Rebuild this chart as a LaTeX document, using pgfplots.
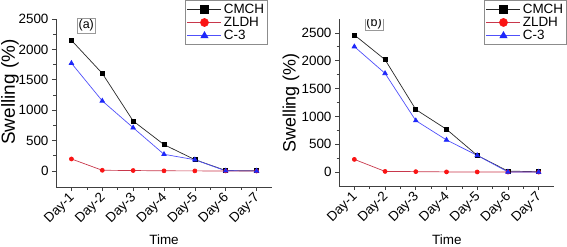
\documentclass[border=0pt]{standalone}
\usepackage{fontspec}
\setmainfont{Liberation Sans}
\usepackage{pgfplots}
\pgfplotsset{compat=1.18}
\definecolor{cmchline}{RGB}{40,40,40}
\definecolor{zldhline}{RGB}{200,55,75}
\definecolor{zldhmark}{RGB}{250,20,20}
\definecolor{c3line}{RGB}{80,80,250}
\definecolor{c3mark}{RGB}{30,40,250}
\pgfplotsset{
  legend image code/.code={\draw[mark repeat=2,mark phase=2,#1] plot coordinates {(0bp,0bp) (17bp,0bp) (34bp,0bp)};},
}
\pgfplotsset{
  myax/.style={
    scale only axis,
    axis x line=bottom, axis y line=left,
    axis line style={-, black!75, line width=0.8pt},
    xmin=0.5, xmax=7.5,
    xtick={1,2,3,4,5,6,7},
    xticklabels={Day-1,Day-2,Day-3,Day-4,Day-5,Day-6,Day-7},
    minor x tick num=1,
    ytick={0,500,1000,1500,2000,2500},
    minor y tick num=1,
    tick align=outside,
    major tick length=4bp, minor tick length=2.5bp,
    every tick/.style={black!75, line width=0.7pt},
    /pgf/number format/assume math mode=true,
    /pgf/number format/1000 sep={},
    x tick label style={rotate=45, anchor=east, font=\fontsize{13.5}{15}\selectfont, xshift=1bp, yshift=-4bp},
    y tick label style={font=\fontsize{13.5}{15}\selectfont},
    xlabel={Time},
    xlabel style={font=\fontsize{13.5}{15}\selectfont, anchor=center},
    legend cell align=left,
    legend style={draw=black!45, line width=0.5pt, font=\fontsize{13.5}{15}\selectfont, anchor=north east, inner sep=1.5bp, row sep=-1.5bp},
    legend image post style={mark size=4bp},
    every axis plot/.append style={line width=0.7pt},
  },
  cmch/.style={color=cmchline, mark=square*, mark size=2bp, mark options={fill=black, draw=black}},
  zldh/.style={color=zldhline, mark=*, mark size=2bp, mark options={fill=zldhmark, draw=zldhmark}},
  c3/.style={color=c3line, mark=triangle*, mark size=2.6bp, mark options={fill=c3mark, draw=c3mark}},
}
\begin{document}
\begin{tikzpicture}
\useasboundingbox (0,0) rectangle (567bp,247bp);
% (a)
\begin{axis}[myax,
  at={(56bp,60bp)}, anchor=south west,
  width=216bp, height=168bp,
  ymin=-263, ymax=2500,
  ylabel={Swelling (\%)},
  ylabel style={font=\fontsize{19}{21}\selectfont, at={(axis description cs:-0.213,0.565)}, anchor=center, rotate=0},
  xlabel style={at={(axis description cs:0.5,-0.315)}},
  legend style={at={(axis description cs:0.981,1.113)}},
]
\addplot[cmch] coordinates {(1,2150) (2,1605) (3,823) (4,434) (5,187) (6,8) (7,3)};
\addlegendentry{CMCH}
\addplot[zldh] coordinates {(1,198) (2,12) (3,8) (4,3) (5,2) (6,1) (7,0)};
\addlegendentry{ZLDH}
\addplot[c3] coordinates {(1,1773) (2,1153) (3,712) (4,275) (5,185) (6,3) (7,2)};
\addlegendentry{C-3}
\node[draw=black!40, line width=0.5pt, inner sep=1.5bp, font=\fontsize{12.5}{14}\selectfont] at (axis description cs:0.14,0.96) {(a)};
\end{axis}
% (b)
\begin{axis}[myax,
  at={(339bp,61bp)}, anchor=south west,
  width=215bp, height=167bp,
  ymin=-250, ymax=2750,
  ylabel={Swelling (\%)},
  ylabel style={font=\fontsize{18}{20}\selectfont, at={(axis description cs:-0.223,0.497)}, anchor=center, rotate=0},
  xlabel style={at={(axis description cs:0.502,-0.323)}},
  legend style={at={(axis description cs:1.06,1.114)}},
]
\addplot[cmch] coordinates {(1,2464) (2,2019) (3,1124) (4,769) (5,300) (6,18) (7,6)};
\addlegendentry{CMCH}
\addplot[zldh] coordinates {(1,228) (2,12) (3,8) (4,3) (5,2) (6,1) (7,0)};
\addlegendentry{ZLDH}
\addplot[c3] coordinates {(1,2254) (2,1773) (3,925) (4,577) (5,300) (6,3) (7,2)};
\addlegendentry{C-3}
\node[draw=black!40, line width=0.5pt, inner sep=1.5bp, font=\fontsize{12.5}{14}\selectfont] at (axis description cs:0.163,0.975) {(b)};
\end{axis}
\end{tikzpicture}
\end{document}
